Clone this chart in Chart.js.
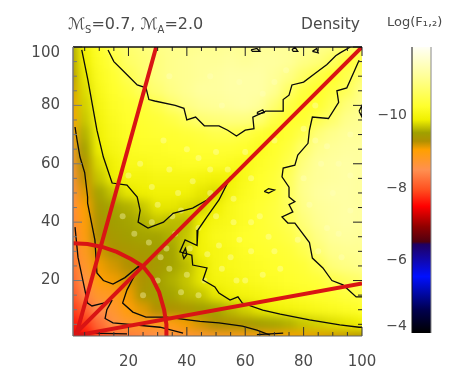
<!DOCTYPE html>
<html><head><meta charset="utf-8">
<style>html,body{margin:0;padding:0;background:#fff;width:463px;height:391px;overflow:hidden}
canvas{position:absolute;left:0;top:0;filter:blur(0.4px)}
#bar{left:370px}</style>
<script src="https://cdn.jsdelivr.net/npm/chart.js@4/dist/chart.umd.min.js"></script>
</head><body>
<canvas id="main" width="463" height="391"></canvas>
<canvas id="bar" width="93" height="391"></canvas>
<script>
// ---------- data ----------
const xTickValues=[20,40,60,80,100];
const yTickValues=[20,40,60,80,100];
const minorTickValues=[5,10,15,25,30,35,45,50,55,65,70,75,85,90,95];
const colorTickValues=[-10,-8,-6,-4];
const gridK1=[0,5,10,15,20,25,30,35,40,45,50,55,60,65,70,75,80,85,90,95,100];
const gridK2=[100,95,90,85,80,75,70,65,60,55,50,45,40,35,30,25,20,15,10,5,0];
const logF=[
[-9.5,-9.95,-10.25,-10.55,-10.75,-10.85,-10.95,-11.0,-11.0,-11.05,-11.05,-11.1,-11.05,-11.1,-11.1,-11.1,-11.05,-11.0,-10.9,-10.8,-10.7],
[-9.4,-9.9,-10.2,-10.4,-10.7,-10.8,-10.9,-11.0,-11.05,-11.1,-11.1,-11.15,-11.1,-11.15,-11.15,-11.1,-10.95,-10.85,-10.65,-10.35,-10.5],
[-9.3,-9.85,-10.15,-10.3,-10.55,-10.75,-10.9,-11.0,-11.05,-11.1,-11.15,-11.2,-11.2,-11.2,-11.1,-10.95,-10.7,-10.45,-10.25,-10.5,-10.75],
[-9.2,-9.8,-10.1,-10.25,-10.4,-10.65,-10.8,-10.95,-11.05,-11.15,-11.15,-11.2,-11.2,-11.2,-11.05,-10.7,-10.4,-10.25,-10.4,-10.6,-10.95],
[-9.1,-9.75,-10.05,-10.2,-10.3,-10.35,-10.5,-10.75,-10.95,-11.05,-11.1,-11.15,-11.2,-11.1,-10.8,-10.45,-10.25,-10.3,-10.55,-10.85,-11.0],
[-9.0,-9.7,-10.0,-10.15,-10.25,-10.3,-10.35,-10.45,-10.6,-10.8,-10.85,-10.9,-10.9,-10.8,-10.45,-10.25,-10.3,-10.55,-10.75,-11.0,-11.05],
[-8.9,-9.6,-9.95,-10.1,-10.2,-10.25,-10.3,-10.3,-10.35,-10.4,-10.5,-10.5,-10.45,-10.3,-10.2,-10.3,-10.5,-10.85,-11.0,-11.1,-11.1],
[-8.8,-9.5,-9.9,-10.05,-10.15,-10.2,-10.2,-10.25,-10.25,-10.3,-10.3,-10.3,-10.25,-10.15,-10.25,-10.4,-10.75,-11.0,-11.1,-11.15,-11.15],
[-8.7,-9.35,-9.8,-9.95,-10.1,-10.1,-10.15,-10.15,-10.2,-10.2,-10.2,-10.15,-10.1,-10.2,-10.3,-10.5,-10.9,-11.1,-11.15,-11.2,-11.15],
[-8.6,-9.25,-9.7,-9.9,-10.0,-10.0,-10.05,-10.05,-10.05,-10.0,-9.95,-9.95,-10.1,-10.25,-10.35,-10.6,-11.0,-11.1,-11.15,-11.2,-11.15],
[-8.5,-9.15,-9.55,-9.7,-9.85,-9.9,-9.95,-9.95,-9.95,-9.85,-9.8,-10.0,-10.15,-10.25,-10.35,-10.65,-11.0,-11.15,-11.2,-11.2,-11.15],
[-8.45,-9.05,-9.45,-9.55,-9.6,-9.7,-9.85,-9.85,-9.8,-9.75,-9.9,-10.1,-10.2,-10.3,-10.4,-10.6,-10.95,-11.1,-11.15,-11.2,-11.15],
[-8.4,-9.0,-9.35,-9.5,-9.55,-9.6,-9.7,-9.65,-9.65,-9.9,-10.05,-10.1,-10.2,-10.3,-10.4,-10.55,-10.85,-11.05,-11.15,-11.2,-11.15],
[-8.35,-8.95,-9.3,-9.45,-9.5,-9.55,-9.55,-9.6,-9.7,-9.95,-10.1,-10.15,-10.25,-10.3,-10.35,-10.45,-10.7,-10.95,-11.1,-11.15,-11.1],
[-8.3,-8.85,-9.2,-9.35,-9.4,-9.45,-9.5,-9.55,-9.75,-9.95,-10.05,-10.1,-10.2,-10.25,-10.3,-10.35,-10.5,-10.8,-11.0,-11.05,-11.05],
[-8.2,-8.75,-9.1,-9.2,-9.3,-9.35,-9.45,-9.55,-9.65,-9.85,-10.05,-10.1,-10.15,-10.2,-10.25,-10.3,-10.35,-10.55,-10.85,-10.95,-11.0],
[-8.1,-8.6,-9.0,-9.1,-9.2,-9.35,-9.5,-9.6,-9.7,-9.85,-10.0,-10.05,-10.1,-10.15,-10.2,-10.25,-10.3,-10.35,-10.5,-10.65,-10.75],
[-7.95,-8.4,-8.8,-8.85,-9.1,-9.4,-9.5,-9.55,-9.65,-9.7,-9.85,-9.95,-10.0,-10.05,-10.1,-10.15,-10.2,-10.25,-10.3,-10.4,-10.45],
[-7.8,-8.1,-8.5,-8.75,-9.0,-9.15,-9.3,-9.35,-9.4,-9.5,-9.55,-9.65,-9.75,-9.85,-9.95,-10.0,-10.05,-10.1,-10.15,-10.2,-10.25],
[-7.6,-7.8,-8.2,-8.6,-8.75,-8.85,-8.85,-8.95,-9.1,-9.2,-9.3,-9.35,-9.4,-9.5,-9.55,-9.6,-9.7,-9.75,-9.8,-9.85,-9.9],
[-7.3,-7.5,-7.9,-8.15,-8.3,-8.4,-8.5,-8.55,-8.65,-8.7,-8.8,-8.85,-8.9,-8.95,-9.0,-9.05,-9.1,-9.15,-9.2,-9.25,-9.3]
];
const contourUpper=[[13,99],[15,95],[19,91],[23,87],[26,86],[27,82],[29,81.5],[36,80],[39,79],[40,75],[43,76],[46,73],[51,73],[54,71.5],[57,69.5],[60,71.5],[63,72],[62.6,76],[67,78],[73,78],[73,82],[75,83.5],[76,87],[80,88],[84,91],[88,94],[91,97],[92.5,98],[96,100]];
const contourRight=[[99,95.5],[97.5,92],[94.8,86],[91.4,85],[92,81],[88.5,75.5],[83,76],[82,71.5],[81.5,67],[78,63],[77,59.5],[73,58.5],[72.6,55.5],[75,52],[75,48.6],[77,47],[75,46],[76.3,43.5],[72.6,41.8],[74.6,39.7],[77,39.7],[82,33],[83,27.7],[86.6,24.3],[89.7,20],[93.5,18.5],[98,14.4],[100,14.4]];
const contourInnerTop=[[4,99],[6.1,88.7],[9.2,71.5],[11.4,62.3],[14.4,53.4],[19.5,52.7],[23,48.6],[24,44],[23.3,40],[26.7,38],[32,40],[35.3,43],[42,44.8],[46.9,47.6],[50,50.5],[55,55.5]];
const contourInnerLow=[[55,55.5],[51,47.6],[47,42],[43.8,37.3],[43.5,32],[39.4,33.9],[37.6,29.8],[41.7,28.7],[42,25.3],[46.9,24.3],[45.5,20.2],[49.6,17.8],[51,15.7],[54.8,13.3],[57.5,14.4],[59,12.3],[66,9.9],[72,8.5],[82,6.5],[92.4,4.8],[99,4],[100,4]];
const contourMidTop=[[1.7,72.6],[2.4,68],[3.4,62.3],[5,57],[6,48.6],[6,46.5],[8.5,33.9],[9.2,22.6],[11.4,20],[14.7,18.8],[18.8,21],[24,25.3]];
const contourMidLow=[[24,25.3],[19.5,16.8],[18,12.3],[21.5,9.2],[26,7.5],[33,7.5],[44.5,6],[51,5.5],[59,4.4],[64,3],[68.5,1.3]];
const contourDashBottom=[[64,1.5],[73,2]];
const contourInnerLeft=[[1.7,38.3],[2.7,28],[4.4,20],[6,12.3],[7.5,11.3],[11.4,12.3],[14.4,13.3]];
const contourInnerBottom=[[14.4,13.3],[12.6,10],[12,7],[14.7,5.5],[30.8,4],[38.7,2]];
const contourBase=[[6.8,2],[19.5,1.7]];
const blobA=[[38.5,29],[39.5,31],[40,29],[39,27.5],[38.5,29]];
const blobB=[[66.5,50.5],[68,51.5],[70,51],[68,50],[66.5,50.5]];
const blobC=[[64,77.5],[66,78.5],[66.5,77.5],[64.5,77],[64,77.5]];
const blobD=[[62,99],[64,99.5],[65,98.5],[62.5,98.5],[62,99]];
const blobE=[[76,99],[77,100],[78,98.5],[76.5,98.5],[76,99]];
const blobF=[[83,98.5],[84.5,99.5],[85,98],[83,98.5]];
const blobG=[[99,78],[100,80],[100,76],[99,78]];
const rayUp=[[2,1],[29.5,100]];
const rayDiagonal=[[1.5,1.5],[100,100]];
const rayLow=[[1,1],[100,19]];
const arcPoints=[[1,32.8],[6,32.5],[11,31.5],[16,29.8],[21,27.3],[25,24.8],[28,21],[30.5,16],[32.2,10],[33,5],[33,1]];
const speckles=[[27,33],[31,28],[36,36],[34,24],[30,20],[40,22],[44,15],[38,16],[47,29],[51,32],[55,28],[58,34],[50,42],[56,40],[62,30],[66,22],[60,20],[70,30],[65,42],[68,35],[30,46],[37,50],[42,54],[48,58],[34,58],[28,52],[56,48],[62,55],[60,64],[70,68],[40,65],[50,64],[80,72],[86,60],[90,50],[82,46],[92,36],[88,66],[74,92],[58,88],[48,90],[66,84],[96,70],[85,30],[93,28],[24,60],[20,56],[44,38],[35,42],[25,15],[46,20],[22,36],[18,42],[28,40],[41,31],[33,31],[52,24],[57,20],[48,50],[54,58],[38,44],[44,62],[32,68],[62,40],[72,24],[78,34],[84,80],[92,60],[96,44],[70,88],[52,80],[34,90],[88,38],[96,56],[80,55],[84,68]];
const colorStopValues=[-11.9,-11.08,-10.26,-9.89,-9.53,-9.3,-9.06,-8.51,-7.96,-7.5,-6.94,-6.52,-6.45,-5.56,-4.65,-4];
const colorStopRGB=[[255,255,245],[255,255,150],[255,255,45],[240,240,0],[160,160,0],[176,144,0],[255,160,0],[255,144,80],[255,80,32],[255,0,0],[144,0,0],[80,0,16],[32,0,96],[0,16,255],[0,0,80],[0,0,0]];

// ---------- helpers ----------
function colorOf(v){
  const s=colorStopValues,c=colorStopRGB;
  if(v<=s[0])return `rgb(${c[0]})`;
  for(let i=1;i<s.length;i++){ if(v<=s[i]){
    const t=(v-s[i-1])/(s[i]-s[i-1]);
    return `rgb(${c[i].map((q,j)=>Math.round(c[i-1][j]+(q-c[i-1][j])*t))})`;
  }}
  return 'rgb(0,0,0)';
}
const pts=a=>a.map(p=>({x:p[0],y:p[1]}));
const heatPoints=[],heatColors=[];
gridK2.forEach((y,r)=>gridK1.forEach((x,c)=>{heatPoints.push({x,y});heatColors.push(colorOf(logF[r][c]));}));
const TEXT='#4a4a4a', FONT='"DejaVu Sans", sans-serif';
const line=(a,col,w,order)=>({type:'scatter',data:pts(a),showLine:true,pointRadius:0,borderColor:col,borderWidth:w,order,tension:0,fill:false});
const contours=[contourUpper,contourRight,contourInnerTop,contourInnerLow,contourMidTop,contourMidLow,contourDashBottom,contourInnerLeft,contourInnerBottom,contourBase,blobA,blobB,blobC,blobD,blobE,blobF,blobG];
const reds=[rayUp,rayDiagonal,rayLow,arcPoints];

const smoothPlugin={id:'smooth',
 afterDatasetDraw(chart,args){
  if(args.index!==0)return;
  const {ctx,canvas,chartArea:a}=chart;
  const tmp=document.createElement('canvas');tmp.width=canvas.width;tmp.height=canvas.height;
  tmp.getContext('2d').drawImage(canvas,0,0);
  ctx.save();
  ctx.clearRect(0,0,canvas.width,canvas.height);
  ctx.beginPath();ctx.rect(a.left,a.top,a.right-a.left,a.bottom-a.top);ctx.clip();
  ctx.filter='blur(5px)';
  ctx.drawImage(tmp,0,0);
  ctx.restore();
 }};
const framePlugin={id:'frame',
 afterDatasetsDraw(chart){
  const {ctx,chartArea:a,scales:{x,y}}=chart;
  ctx.save();
  const stroke=(col,w,x1,y1,x2,y2)=>{ctx.strokeStyle=col;ctx.lineWidth=w;ctx.beginPath();ctx.moveTo(x1,y1);ctx.lineTo(x2,y2);ctx.stroke();};
  const draw=(vals,len)=>{vals.forEach(v=>{
    const px=x.getPixelForValue(v),py=y.getPixelForValue(v);
    stroke('#333',1,px,a.bottom,px,a.bottom-len);
    stroke('#222',1,px,a.top,px,a.top+len);
    stroke('#777',1,a.left,py,a.left+len,py);
    stroke('#222',1,a.right,py,a.right-len,py);
  });};
  draw(xTickValues,9);draw(minorTickValues,4);
  stroke('#111',1.5,a.left,a.top,a.right,a.top);
  stroke('#777',1.5,a.left,a.top,a.left,a.bottom);
  stroke('#666',1.2,a.left,a.bottom,a.right,a.bottom);
  ctx.restore();
 },
 afterDraw(chart){
  const ctx=chart.ctx;ctx.save();ctx.fillStyle=TEXT;ctx.textBaseline='alphabetic';
  const run=(parts,x,y)=>{parts.forEach(([t,size,dy])=>{ctx.font=`${size}px ${FONT}`;ctx.fillText(t,x,y+dy);x+=ctx.measureText(t).width;});};
  run([['ℳ',16,0],['S',10,4],['=0.7, ',16,0],['ℳ',16,0],['A',10,4],['=2.0',16,0]],68,29);
  ctx.font=`15.5px ${FONT}`;ctx.fillText('Density',301,29);
  ctx.restore();
 }};

new Chart(document.getElementById('main'),{
 type:'scatter',
 data:{datasets:[
  {data:heatPoints,pointStyle:'rect',pointRadius:11,pointBorderWidth:0,pointBackgroundColor:heatColors,borderWidth:0,order:30,clip:false},
  {data:pts(speckles),pointStyle:'circle',pointRadius:3,pointBorderWidth:0,pointBackgroundColor:'rgba(255,255,190,0.38)',order:20},
  ...reds.map(a=>line(a,'#d91414',4,1)),
  ...contours.map(a=>line(a,'#0a0a0a',1.3,5))
 ]},
 plugins:[smoothPlugin,framePlugin],
 options:{responsive:false,animation:false,events:[],
  layout:{padding:{left:0,right:101,top:47,bottom:0}},
  plugins:{legend:{display:false},tooltip:{enabled:false}},
  scales:{
   x:{type:'linear',min:1,max:100,
     afterBuildTicks:s=>{s.ticks=xTickValues.map(value=>({value}));},
     afterFit:s=>{s.height=55;},
     grid:{display:false},border:{display:false},
     ticks:{z:1,color:TEXT,font:{family:FONT,size:15},padding:9,maxRotation:0,autoSkip:false},
     title:{display:true,text:'k₁',color:TEXT,font:{family:FONT,size:15},padding:{top:2,bottom:0}}},
   y:{type:'linear',min:1,max:100,
     afterBuildTicks:s=>{s.ticks=yTickValues.map(value=>({value}));},
     afterFit:s=>{s.width=73;},
     grid:{display:false},border:{display:false},
     ticks:{z:1,color:TEXT,font:{family:FONT,size:15,lineHeight:0.8},padding:5,autoSkip:false,
       callback:v=>v===100?['','100']:String(v)},
     title:{display:true,text:'k₂',color:TEXT,font:{family:FONT,size:15},padding:{top:0,bottom:4}}}
  }}
});

new Chart(document.getElementById('bar'),{
 type:'bar',
 data:{labels:['Log(F)'],datasets:[{data:[[colorStopValues[0],colorStopValues[colorStopValues.length-1]]],
   barPercentage:1,categoryPercentage:1,borderWidth:0,
   backgroundColor(c){
     const a=c.chart.chartArea; if(!a)return '#888';
     const g=c.chart.ctx.createLinearGradient(0,a.top,0,a.bottom);
     const lo=colorStopValues[0],hi=colorStopValues[colorStopValues.length-1];
     colorStopValues.forEach((v,i)=>g.addColorStop((v-lo)/(hi-lo),`rgb(${colorStopRGB[i]})`));
     return g;
   }}]},
 plugins:[{id:'barFrame',afterDraw(chart){
   const {ctx,chartArea:a}=chart;ctx.save();
   ctx.strokeStyle='#111';ctx.lineWidth=1;ctx.beginPath();ctx.moveTo(a.left,a.top);ctx.lineTo(a.left,a.bottom);ctx.stroke();
   ctx.strokeStyle='#888';ctx.beginPath();ctx.moveTo(a.right,a.top);ctx.lineTo(a.right,a.bottom);ctx.stroke();
   ctx.fillStyle=TEXT;ctx.textBaseline='alphabetic';ctx.font=`13px ${FONT}`;
   ctx.fillText('Log(F₁,₂)',17,26);
   ctx.restore();
 }}],
 options:{responsive:false,animation:false,events:[],
  layout:{padding:{left:0,right:32,top:47,bottom:58}},
  plugins:{legend:{display:false},tooltip:{enabled:false}},
  scales:{
   x:{display:false},
   y:{type:'linear',reverse:true,min:colorStopValues[0],max:colorStopValues[colorStopValues.length-1],
     afterBuildTicks:s=>{s.ticks=colorTickValues.map(value=>({value}));},
     afterFit:s=>{s.width=42;},
     grid:{display:false,drawTicks:false},border:{display:false},
     ticks:{color:TEXT,font:{family:FONT,size:14,lineHeight:0.9},padding:5,autoSkip:false,
       callback:v=>v===-4?['−4',' ']:'−'+Math.abs(v)}}
  }}
});
</script>
</body></html>
